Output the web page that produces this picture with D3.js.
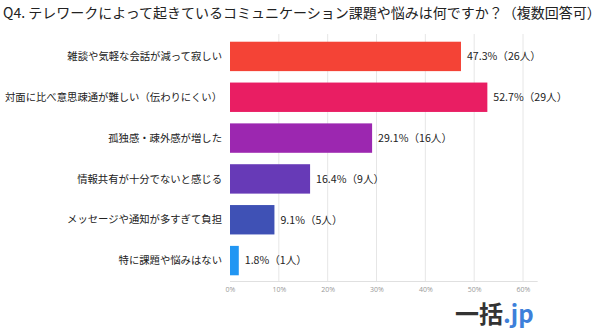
<!DOCTYPE html>
<html><head><meta charset="utf-8">
<script src="https://cdn.jsdelivr.net/npm/d3@7"></script>
<style>
html,body{margin:0;padding:0;background:#fff;}
text{font-family:"Noto Sans CJK JP","Noto Sans",sans-serif;}
</style></head>
<body>
<svg id="c" width="600" height="332"></svg>
<script>
const title = "Q4. テレワークによって起きているコミュニケーション課題や悩みは何ですか？（複数回答可）";
const categories = [
  "雑談や気軽な会話が減って寂しい",
  "対面に比べ意思疎通が難しい（伝わりにくい）",
  "孤独感・疎外感が増した",
  "情報共有が十分でないと感じる",
  "メッセージや通知が多すぎて負担",
  "特に課題や悩みはない"
];
const percents = [47.3, 52.7, 29.1, 16.4, 9.1, 1.8];
const counts = [26, 29, 16, 9, 5, 1];
const colors = ["#F44336", "#E91E63", "#9C27B0", "#673AB7", "#3F51B5", "#2196F3"];
const ticks = [0, 10, 20, 30, 40, 50, 60];

const svg = d3.select("#c");
const x = d3.scaleLinear().domain([0, 60]).range([230, 523]);
const xEnd = x(63);
const y = d3.scaleBand().domain(categories).range([36, 281]).paddingInner(0.28).paddingOuter(0.14);

svg.append("text").attr("x", 3).attr("y", 17.5).attr("font-size", 14).attr("fill", "#222").text(title);

// gridlines
svg.append("g").selectAll("line").data(ticks.slice(1)).join("line")
  .attr("x1", d => x(d)).attr("x2", d => x(d))
  .attr("y1", 34).attr("y2", 281)
  .attr("stroke", "#e6e6e6").attr("stroke-width", 1);
svg.append("line").attr("x1", x(0)).attr("x2", xEnd).attr("y1", 281.5).attr("y2", 281.5)
  .attr("stroke", "#e0e0e0");

// axis
const ax = svg.append("g").attr("transform", "translate(0,282)")
  .call(d3.axisBottom(x).tickValues(ticks).tickFormat(d => d + "%").tickSize(0).tickPadding(5));
ax.select(".domain").remove();
ax.selectAll("text").attr("font-size", 7).attr("fill", "#999")
  .style("font-family", "'Open Sans','Noto Sans',sans-serif");

// bars
svg.append("g").selectAll("rect").data(categories).join("rect")
  .attr("x", x(0)).attr("y", d => y(d))
  .attr("width", (d, i) => x(percents[i]) - x(0))
  .attr("height", y.bandwidth())
  .attr("fill", (d, i) => colors[i]);

// category labels
svg.append("g").selectAll("text").data(categories).join("text")
  .attr("x", 222).attr("y", d => y(d) + y.bandwidth() / 2)
  .attr("dy", "0.36em").attr("text-anchor", "end")
  .attr("font-size", 10.35).attr("fill", "#222").text(d => d);

// value labels
svg.append("g").selectAll("text").data(categories).join("text")
  .attr("x", (d, i) => x(percents[i]) + 6).attr("y", d => y(d) + y.bandwidth() / 2)
  .attr("dy", "0.36em")
  .attr("font-size", 10.6).attr("fill", "#222")
  .text((d, i) => percents[i].toFixed(1) + "%（" + counts[i] + "人）");

// logo
const logo = svg.append("text").attr("x", 455).attr("y", 322.5)
  .attr("font-size", 24).attr("font-weight", "bold");
logo.append("tspan").attr("fill", "#333").text("一括");
logo.append("tspan").attr("fill", "#3D80DA").text(".jp");
</script>
</body></html>
